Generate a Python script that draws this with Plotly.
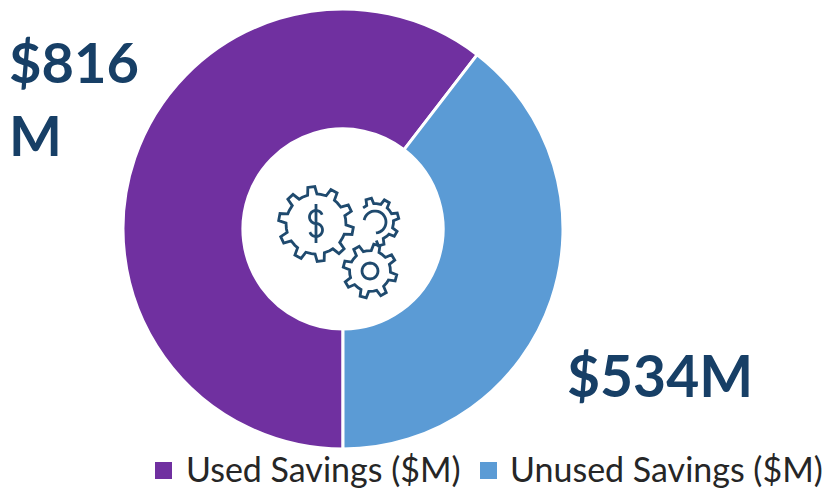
import math
import plotly.graph_objects as go

W, H = 830, 490
categories = ["Used Savings ($M)", "Unused Savings ($M)"]
values = [816, 534]
colors = ["#7030A0", "#5B9BD5"]
label_used = "$816<br>M"
label_unused = "$534M"
NAVY = "#173F66"
ICON = "#1F4A6E"


def px(x, y):
    return x / W, 1 - y / H


def path_from(points, closed=False):
    parts = []
    for i, (x, y) in enumerate(points):
        u, v = px(x, y)
        parts.append(("M" if i == 0 else "L") + f"{u:.5f},{v:.5f}")
    return " ".join(parts) + (" Z" if closed else "")


def gear_points(cx, cy, r_out, r_in, teeth, start_deg=0.0, sweep=360.0, rot=0.0):
    pts = []
    step = 360.0 / teeth
    n = int(round(sweep / step))
    for k in range(n):
        a = start_deg + rot + k * step
        for frac, r in ((0.0, r_in), (0.30, r_in), (0.40, r_out), (0.70, r_out), (0.80, r_in)):
            t = math.radians(a + frac * step)
            pts.append((cx + r * math.cos(t), cy + r * math.sin(t)))
    return pts


def arc_points(cx, cy, r, a0, a1, n=24):
    return [(cx + r * math.cos(math.radians(a0 + (a1 - a0) * i / n)),
             cy + r * math.sin(math.radians(a0 + (a1 - a0) * i / n))) for i in range(n + 1)]


def line_shape(points, closed=False):
    return dict(type="path", xref="paper", yref="paper", path=path_from(points, closed),
                line=dict(color=ICON, width=2.8), layer="above")


def square(x0, color):
    u0, v0 = px(x0, 479)
    u1, v1 = px(x0 + 17, 462)
    return dict(type="rect", xref="paper", yref="paper", x0=u0, x1=u1, y0=v0, y1=v1,
                fillcolor=color, line=dict(width=0), layer="above")


shapes = [
    line_shape(gear_points(316, 224, 37.5, 30, 10, rot=-9), True),
    line_shape(gear_points(370, 271, 27, 20.5, 8, rot=-10), True),
    line_shape(arc_points(370, 271, 8, 0, 360), True),
    line_shape(gear_points(375, 222, 24, 18.5, 8, start_deg=-130, sweep=225, rot=0)),
    line_shape(arc_points(375, 222, 11, -170, 85)),
    # dollar sign
    line_shape(arc_points(316, 217, 6.5, -20, -270) + arc_points(316, 230, 6.5, -90, 160)),
    line_shape([(316, 204), (316, 243)]),
    square(155, colors[0]),
    square(480, colors[1]),
]

fig = go.Figure(go.Pie(
    labels=categories, values=values, hole=0.455, sort=False, direction="clockwise", rotation=180,
    marker=dict(colors=colors, line=dict(color="white", width=3)),
    textinfo="none", hoverinfo="label+value",
    domain=dict(x=[123 / W, 563 / W], y=[1 - 449 / H, 1 - 9 / H]),
))

font = "Lato, Carlito, 'Open Sans', sans-serif"


def note(text, x, y, size, color):
    return dict(text=text, x=x / W, y=1 - y / H, xref="paper", yref="paper",
                xanchor="left", yanchor="middle", align="left", showarrow=False,
                font=dict(family=font, size=size, color=color))


fig.update_layout(
    width=W, height=H, margin=dict(l=0, r=0, t=0, b=0),
    paper_bgcolor="white", plot_bgcolor="white",
    showlegend=False,
    shapes=shapes,
    annotations=[
        note(f"<b>{label_used}</b>", 7, 98, 56, NAVY),
        note(f"<b>{label_unused}</b>", 565, 375, 57, NAVY),
        note(categories[0], 184, 468, 34, "#262626"),
        note(categories[1], 508, 468, 34, "#262626"),
    ],
)
fig.write_html("out.html", config={"displayModeBar": False},
               post_script="document.body.style.margin='0';window.dispatchEvent(new Event('resize'));")
